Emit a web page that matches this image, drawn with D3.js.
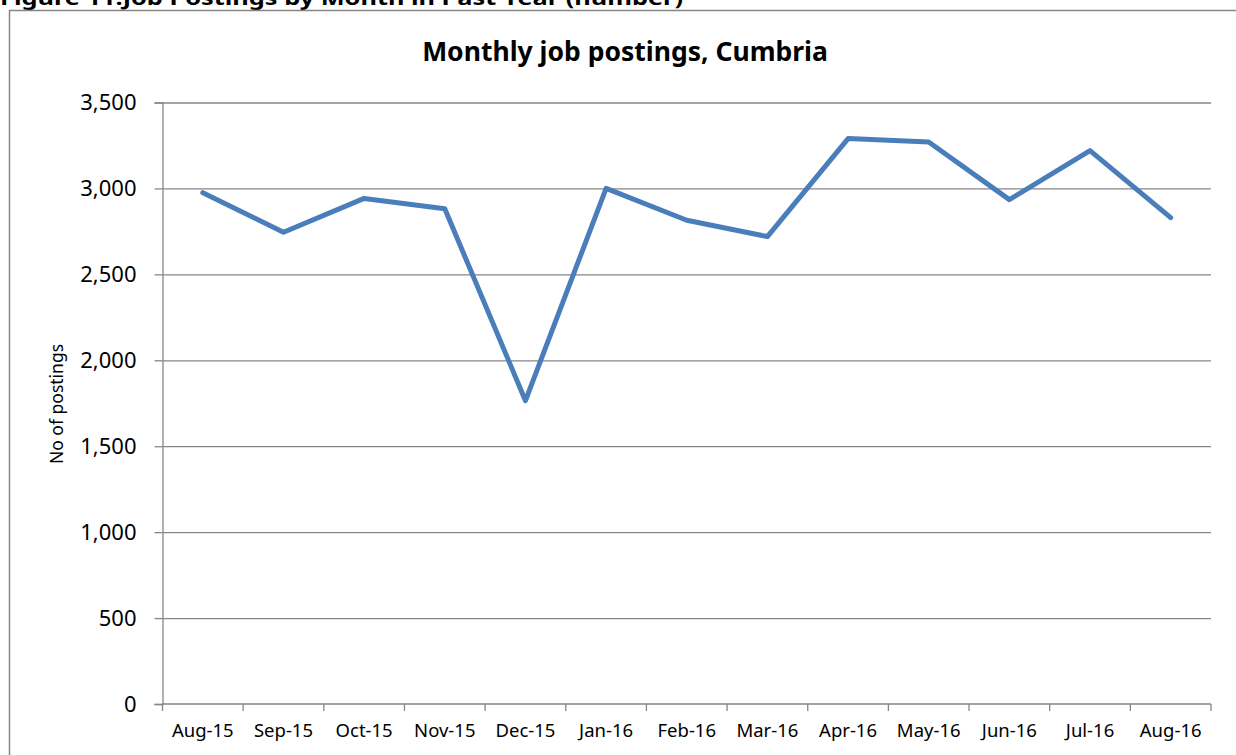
<!DOCTYPE html>
<html>
<head>
    <meta http-equiv="content-type" content="text/html; charset=utf-8" />
    <style>
        body { margin: 0; background: #fff; }
        svg { display: block; font-family: "Noto Sans", "Open Sans", sans-serif; }
    </style>
</head>
<body>
    <svg width="1236" height="755"></svg>

    <script src="https://d3js.org/d3.v7.min.js"></script>
    <script>
        // data
        const months = ['Aug-15', 'Sep-15', 'Oct-15', 'Nov-15', 'Dec-15', 'Jan-16', 'Feb-16',
            'Mar-16', 'Apr-16', 'May-16', 'Jun-16', 'Jul-16', 'Aug-16']
        const postings = [2975, 2745, 2942, 2882, 1765, 3000, 2815, 2720, 3290, 3270, 2935, 3220, 2830]
        const yTicks = [0, 500, 1000, 1500, 2000, 2500, 3000, 3500]

        const svg = d3.select('svg')
        const plotL = 162.5, plotR = 1211, plotT = 102.5, plotB = 704
        const grey = '#868686'

        // heading above the chart box (clipped by the page top, as in the source)
        svg.append('text')
            .attr('x', 0)
            .attr('y', 5)
            .attr('font-size', 19)
            .attr('font-weight', 'bold')
            .attr('textLength', 683)
            .attr('lengthAdjust', 'spacingAndGlyphs')
            .text('Figure 11:Job Postings by Month in Past Year (number)')

        // chart border
        svg.append('rect')
            .attr('x', 9.5).attr('y', 10.5)
            .attr('width', 1300).attr('height', 800)
            .attr('fill', 'none')
            .attr('stroke', grey)
            .attr('stroke-width', 1.5)

        const x = d3.scaleBand().domain(months).range([plotL, plotR])
        const y = d3.scaleLinear().domain([0, 3500]).range([plotB, plotT])

        // gridlines
        svg.append('g')
            .attr('transform', `translate(${plotL},0)`)
            .call(d3.axisLeft(y).tickValues(yTicks.slice(1)).tickSize(-(plotR - plotL)).tickFormat(''))
            .call(g => g.select('.domain').remove())
            .selectAll('line').attr('stroke', grey).attr('stroke-width', 1.3)

        // y axis
        const yAxis = svg.append('g')
            .attr('transform', `translate(${plotL},0)`)
            .call(d3.axisLeft(y).tickValues(yTicks).tickSize(8).tickPadding(18).tickFormat(d3.format(',')))
        yAxis.select('.domain').attr('stroke', grey).attr('stroke-width', 1.3)
        yAxis.selectAll('line').attr('stroke', grey).attr('stroke-width', 1.3)
        yAxis.selectAll('text')
            .attr('font-size', 22)
            .attr('fill', '#000')
            .attr('font-family', '"Noto Sans", sans-serif')

        // x axis: labels centred on categories, ticks on the boundaries
        const xAxis = svg.append('g')
            .attr('transform', `translate(0,${plotB})`)
            .call(d3.axisBottom(x).tickSize(0).tickPadding(20))
        xAxis.select('.domain').remove()
        xAxis.selectAll('text')
            .attr('font-size', 18.5)
            .attr('fill', '#000')
            .attr('font-family', '"Noto Sans", sans-serif')

        const bounds = months.map(m => x(m)).concat([plotR])
        svg.append('line')
            .attr('x1', plotL).attr('x2', plotR)
            .attr('y1', plotB).attr('y2', plotB)
            .attr('stroke', grey).attr('stroke-width', 1.3)
        svg.append('g').selectAll('line')
            .data(bounds)
            .join('line')
            .attr('x1', d => d).attr('x2', d => d)
            .attr('y1', plotB).attr('y2', plotB + 7)
            .attr('stroke', grey).attr('stroke-width', 1.3)

        // y axis title
        svg.append('text')
            .attr('transform', 'translate(63,404) rotate(-90)')
            .attr('text-anchor', 'middle')
            .attr('font-size', 17.5)
            .text('No of postings')

        // chart title
        svg.append('text')
            .attr('x', 625)
            .attr('y', 61)
            .attr('text-anchor', 'middle')
            .attr('font-size', 26.5)
            .attr('font-weight', 'bold')
            .text('Monthly job postings, Cumbria')

        // the line
        const line = d3.line()
            .x((d, i) => x(months[i]) + x.bandwidth() / 2)
            .y(d => y(d))
        svg.append('path')
            .datum(postings)
            .attr('d', line)
            .attr('fill', 'none')
            .attr('stroke', '#4a7ebb')
            .attr('stroke-width', 5)
            .attr('stroke-linejoin', 'round')
            .attr('stroke-linecap', 'round')
    </script>
</body>
</html>
